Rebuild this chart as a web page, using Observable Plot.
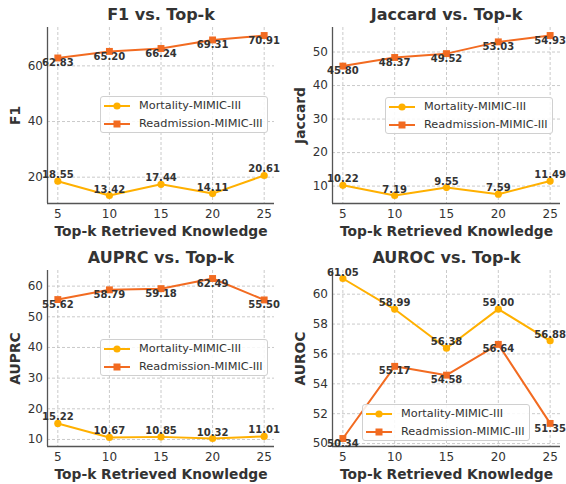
<!DOCTYPE html>
<html><head><meta charset="utf-8">
<script src="https://cdn.jsdelivr.net/npm/d3@7"></script>
<script src="https://cdn.jsdelivr.net/npm/@observablehq/plot@0.6"></script>
<style>
body{margin:0;background:#fff;font-family:"DejaVu Sans",sans-serif;}
#wrap{position:relative;width:566px;height:484px;overflow:hidden;}
.panel{position:absolute;width:283px;height:242px;}
.panel svg{overflow:visible;}
.legend{position:absolute;width:166px;height:35px;border:1px solid #d0d0d0;border-radius:3px;background:rgba(255,255,255,0.85);font-family:"DejaVu Sans";font-size:11.3px;color:#333;}
.legend .row{position:absolute;left:0;height:14px;width:166px;}
.legend .row svg{position:absolute;left:0;top:0;}
.legend .row span{position:absolute;left:38px;top:0;line-height:14px;white-space:nowrap;}
</style></head><body><div id="wrap"></div>
<script>
const topK = [5, 10, 15, 20, 25];
const seriesNames = ["Mortality-MIMIC-III", "Readmission-MIMIC-III"];
const seriesColors = ["#FFB000", "#F26B21"];

const f1Mortality = [18.55, 13.42, 17.44, 14.11, 20.61];
const f1Readmission = [62.83, 65.20, 66.24, 69.31, 70.91];
const jaccardMortality = [10.22, 7.19, 9.55, 7.59, 11.49];
const jaccardReadmission = [45.80, 48.37, 49.52, 53.03, 54.93];
const auprcMortality = [15.22, 10.67, 10.85, 10.32, 11.01];
const auprcReadmission = [55.62, 58.79, 59.18, 62.49, 55.50];
const aurocMortality = [61.05, 58.99, 56.38, 59.00, 56.88];
const aurocReadmission = [50.34, 55.17, 54.58, 56.64, 51.35];

const f1Ticks = [20, 40, 60];
const jaccardTicks = [10, 20, 30, 40, 50];
const auprcTicks = [10, 20, 30, 40, 50, 60];
const aurocTicks = [50, 52, 54, 56, 58, 60];

const xLabel = "Top-k Retrieved Knowledge";

const panels = [
  {title: "F1 vs. Top-k", ylabel: "F1", mort: f1Mortality, readm: f1Readmission, ticks: f1Ticks,
   left: 0, top: 0, mL: 47, mR: 9, mT: 27, mB: 39, legL: 100, legT: 96},
  {title: "Jaccard vs. Top-k", ylabel: "Jaccard", mort: jaccardMortality, readm: jaccardReadmission, ticks: jaccardTicks,
   left: 283, top: 0, mL: 49, mR: 6, mT: 27, mB: 39, legL: 102, legT: 97},
  {title: "AUPRC vs. Top-k", ylabel: "AUPRC", mort: auprcMortality, readm: auprcReadmission, ticks: auprcTicks,
   left: 0, top: 242, mL: 47, mR: 9, mT: 28, mB: 38, legL: 100, legT: 97},
  {title: "AUROC vs. Top-k", ylabel: "AUROC", mort: aurocMortality, readm: aurocReadmission, ticks: aurocTicks,
   left: 283, top: 242, mL: 49, mR: 6, mT: 28, mB: 38, legL: 79, legT: 162}
];

const wrap = document.getElementById("wrap");
const gridStyle = {stroke: "#bdbdbd", strokeOpacity: 1, strokeWidth: 0.8, strokeDasharray: "3,2"};

panels.forEach(p => {
  const mortRows = topK.map((k, i) => ({k, v: p.mort[i]}));
  const readmRows = topK.map((k, i) => ({k, v: p.readm[i]}));
  const [lo, hi] = d3.extent([...p.mort, ...p.readm]);
  const pad = (hi - lo) * 0.05;
  const yDom = [lo - pad, hi + pad];
  const xDom = [topK[0] - 1, topK[topK.length - 1] + 1];

  const chart = Plot.plot({
    width: 283, height: 242,
    marginLeft: p.mL, marginRight: p.mR, marginTop: p.mT, marginBottom: p.mB,
    style: {fontFamily: "DejaVu Sans", background: "transparent", color: "#333", overflow: "visible"},
    x: {domain: xDom},
    y: {domain: yDom},
    marks: [
      Plot.gridX(topK, gridStyle),
      Plot.gridY(p.ticks, gridStyle),
      Plot.axisX(topK, {tickSize: 0, tickPadding: 5.5, fontSize: 12, label: null}),
      Plot.axisY(p.ticks, {tickSize: 0, tickPadding: 4.5, fontSize: 12, label: null}),
      Plot.ruleX([xDom[0]], {stroke: "#555", strokeWidth: 1.3}),
      Plot.ruleY([yDom[0]], {stroke: "#555", strokeWidth: 1.3}),
      Plot.line(mortRows, {x: "k", y: "v", stroke: seriesColors[0], strokeWidth: 2}),
      Plot.dot(mortRows, {x: "k", y: "v", r: 3.6, fill: seriesColors[0], symbol: "circle"}),
      Plot.line(readmRows, {x: "k", y: "v", stroke: seriesColors[1], strokeWidth: 2}),
      Plot.dot(readmRows, {x: "k", y: "v", r: 3.9, fill: seriesColors[1], symbol: "square"}),
      Plot.text(mortRows, {x: "k", y: "v", text: d => d.v.toFixed(2), lineAnchor: "bottom", dy: -3,
        fontSize: 10, fontWeight: "bold", fill: "#333"}),
      Plot.text(readmRows, {x: "k", y: "v", text: d => d.v.toFixed(2), lineAnchor: "top", dy: 1,
        fontSize: 10, fontWeight: "bold", fill: "#333"}),
      Plot.text([p.title], {text: d => d, frameAnchor: "top", lineAnchor: "bottom", dy: -8,
        fontSize: 16, fontWeight: "bold", fill: "#333"}),
      Plot.text([xLabel], {text: d => d, frameAnchor: "bottom", lineAnchor: "bottom", dy: 32,
        fontSize: 13.8, fontWeight: "bold", fill: "#333"}),
      Plot.text([p.ylabel], {text: d => d, frameAnchor: "left", textAnchor: "middle", lineAnchor: "middle",
        rotate: -90, dx: -32, fontSize: 13.8, fontWeight: "bold", fill: "#333"})
    ]
  });

  const div = document.createElement("div");
  div.className = "panel";
  div.style.left = p.left + "px";
  div.style.top = p.top + "px";
  div.appendChild(chart);

  const leg = document.createElement("div");
  leg.className = "legend";
  leg.style.left = p.legL + "px";
  leg.style.top = p.legT + "px";
  seriesNames.forEach((name, i) => {
    const row = document.createElement("div");
    row.className = "row";
    row.style.top = (i === 0 ? 2 : 19.5) + "px";
    const svg = d3.create("svg").attr("width", 34).attr("height", 14);
    svg.append("line").attr("x1", 3).attr("x2", 29).attr("y1", 7).attr("y2", 7)
      .attr("stroke", seriesColors[i]).attr("stroke-width", 2);
    if (i === 0) svg.append("circle").attr("cx", 16).attr("cy", 7).attr("r", 3.6).attr("fill", seriesColors[i]);
    else svg.append("rect").attr("x", 12.5).attr("y", 3.5).attr("width", 7).attr("height", 7).attr("fill", seriesColors[i]);
    row.appendChild(svg.node());
    const span = document.createElement("span");
    span.textContent = name;
    row.appendChild(span);
    leg.appendChild(row);
  });
  div.appendChild(leg);
  wrap.appendChild(div);
});
</script>
</body></html>
